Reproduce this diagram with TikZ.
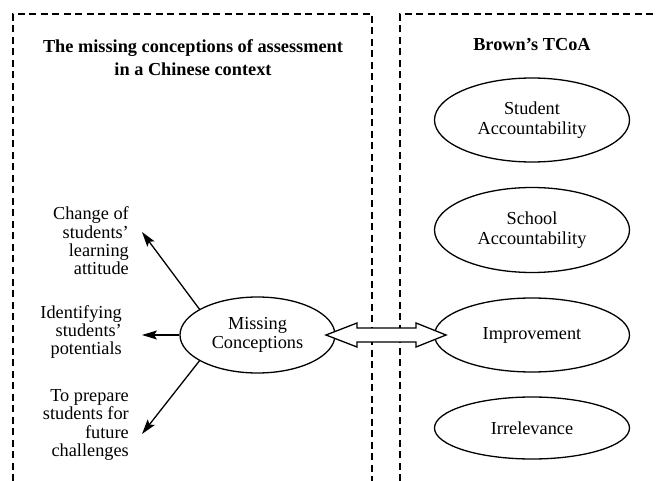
\documentclass[tikz,border=0pt]{standalone}
\usepackage{fontspec}
\setmainfont{Liberation Serif}
\usetikzlibrary{arrows.meta,shapes.geometric,calc}
\tikzset{
  frame/.style={line width=1.8pt, dash pattern=on 7pt off 4.5pt},
  oval/.style={draw, ellipse, line width=1.3pt, inner sep=0pt, align=center,
    font=\fontsize{18.3}{19.5}\selectfont},
  lbl/.style={anchor=east, inner sep=0pt, align=right,
    font=\fontsize{18.3}{18.3}\selectfont},
  ttl/.style={inner sep=0pt, align=center, font=\fontsize{18.3}{23}\selectfont\bfseries},
  arr/.style={line width=1.3pt, -{Stealth[length=15pt,width=9pt,inset=3pt]}},
}
\begin{document}
\begin{tikzpicture}[x=1pt,y=-1pt]
\useasboundingbox (0,0) rectangle (656,481);
% frames
\draw[frame] (13,481) -- (13,14) -- (372,14) -- (372,481);
\draw[frame] (400,481) -- (400,14) -- (656,14);
% titles
\node[ttl] (t1) at (193,58) {The missing conceptions of assessment\\in a Chinese context};
\node[ttl] (t2) at (532,45) {Brown’s TCoA};
% right ellipses
\node[oval, minimum width=195pt, minimum height=84pt] (sa) at (532,120) {Student\\Accountability};
\node[oval, minimum width=195pt, minimum height=85pt] (sc) at (532,230) {School\\Accountability};
\node[oval, minimum width=195pt, minimum height=74pt] (im) at (532,335) {Improvement};
\node[oval, minimum width=195pt, minimum height=62pt] (ir) at (532,428) {Irrelevance};
% missing conceptions
\node[oval, minimum width=155pt, minimum height=76pt] (mc) at (257.5,335) {Missing\\Conceptions};
% labels
\node[lbl] (l1) at (129,241) {Change of\\students’\\learning\\attitude};
\node[lbl] (l2) at (122,332) {Identifying\\students’\\potentials};
\node[lbl] (l3) at (129,425) {To prepare\\students for\\future\\challenges};
% arrows
\coordinate (a1) at (142,232);
\coordinate (a2) at (142,335);
\coordinate (a3) at (142,434);
\draw[arr] (mc.156) -- (a1);
\draw[arr] (mc.west) -- (a2);
\draw[arr] (mc.204) -- (a3);
% double arrow
\coordinate (dl) at (326,335);
\coordinate (dr) at (446,335);
\draw[line width=1.3pt, fill=white, line join=miter]
  (dl) -- ++(31,-12) -- ++(0,5) -- ($(dr)+(-30,-7)$) -- ++(0,-5) -- (dr)
  -- ++(-30,12) -- ++(0,-5) -- ($(dl)+(31,7)$) -- ++(0,5) -- cycle;
\end{tikzpicture}
\end{document}
